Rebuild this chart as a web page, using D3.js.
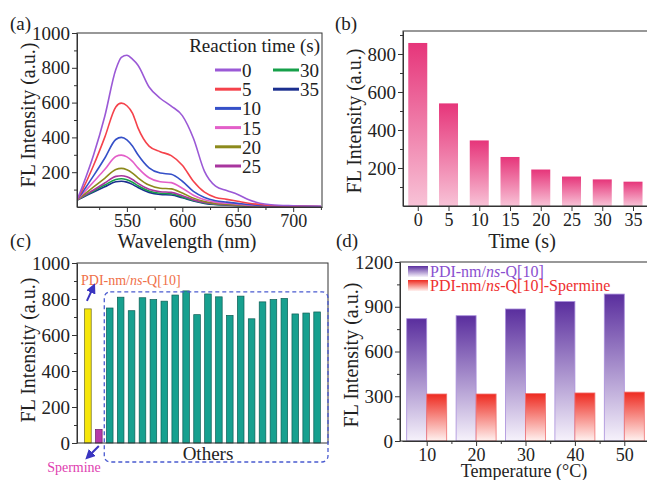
<!DOCTYPE html>
<html>
<head>
<meta charset="utf-8">
<script src="https://cdn.jsdelivr.net/npm/d3@7"></script>
<style>
  body { margin: 0; background: #fff; }
  svg, svg text { font-family: "Liberation Serif", "Times New Roman", serif; }
  .tick text { font-size: 19px; fill: #222; font-family: "Liberation Serif", "Times New Roman", serif; }
  .tick line, .domain { stroke: #333; }
  .small .tick text { font-size: 18px; }
</style>
</head>
<body>
<div id="chart"></div>
<script>
// (a) spectra
var waves = [505, 510, 520, 530, 540, 545, 550, 555, 560, 570, 580, 590, 600, 610, 620, 630, 640, 650, 660, 670, 680, 700, 725];
var spec0  = [40,120,300,520,790,860,872,850,815,690,625,580,525,395,205,120,95,72,42,22,13,7,4];
var spec5  = [40,100,240,400,575,597,582,540,455,350,318,295,240,148,85,55,44,33,22,14,9,5,3];
var spec10 = [40,85,180,280,388,400,386,350,300,225,195,188,148,90,55,36,28,21,14,9,6,4,2];
var spec15 = [40,75,145,215,290,298,288,262,225,168,145,140,108,68,42,28,22,16,11,7,5,3,2];
var spec20 = [40,65,115,165,216,222,214,195,168,126,108,104,80,51,32,21,16,12,8,5,4,2,1];
var spec25 = [40,60,98,138,176,180,174,158,136,102,88,84,65,41,26,17,13,10,7,4,3,2,1];
var spec30 = [40,57,92,126,158,162,156,142,122,92,79,76,58,37,23,15,12,9,6,4,3,2,1];
var spec35 = [40,55,86,116,145,148,143,130,112,84,72,69,53,34,21,14,11,8,5,4,3,2,1];
var specLabels = ["0", "5", "10", "15", "20", "25", "30", "35"];
var specColors = ["#9b59d6", "#f5424b", "#3550c8", "#e35fc9", "#8c8a1c", "#a8359e", "#16a04a", "#1b2f8f"];

// (b) intensity vs time
var times = [0, 5, 10, 15, 20, 25, 30, 35];
var timeInt = [858, 540, 345, 258, 192, 155, 140, 128];

// (c) selectivity
var refValue = 745, spermineValue = 75;
var others = [750, 810, 735, 807, 797, 788, 822, 845, 713, 828, 812, 709, 816, 690, 784, 797, 803, 717, 722, 728];

// (d) temperature
var temps = [10, 20, 30, 40, 50];
var qInt = [820, 840, 885, 935, 985];
var qSpInt = [315, 315, 318, 322, 328];

var svg = d3.select("#chart").append("svg").attr("width", 647).attr("height", 480);
var defs = svg.append("defs");

function grad(id, top, bottom) {
  var g = defs.append("linearGradient").attr("id", id)
    .attr("x1", 0).attr("y1", 0).attr("x2", 0).attr("y2", 1);
  g.append("stop").attr("offset", "0%").attr("stop-color", top);
  g.append("stop").attr("offset", "100%").attr("stop-color", bottom);
}
grad("gPink", "#e6357a", "#f8c3d7");
grad("gPurple", "#5a2e9e", "#f6f2fb");
grad("gRed", "#ee2a20", "#fff2f0");

function yAxis(x, scale, major, minor) {
  svg.append("g").attr("transform", "translate(" + x + ",0)")
    .call(d3.axisLeft(scale).tickValues(major).tickSize(5).tickPadding(2).tickSizeOuter(0).tickFormat(d3.format("d")));
  svg.append("g").attr("transform", "translate(" + x + ",0)")
    .call(d3.axisLeft(scale).tickValues(minor).tickSize(3).tickFormat(""))
    .select(".domain").remove();
}
function xAxis(y, scale, major, minor, cls) {
  var a = d3.axisBottom(scale).tickValues(major).tickSize(5).tickPadding(2).tickSizeOuter(0).tickFormat(d3.format("d"));
  svg.append("g").attr("class", cls || null).attr("transform", "translate(0," + y + ")").call(a);
  if (minor) {
    svg.append("g").attr("transform", "translate(0," + y + ")")
      .call(d3.axisBottom(scale).tickValues(minor).tickSize(3).tickFormat(""))
      .select(".domain").remove();
  }
}
function frame(x0, y0, x1, y1) {
  svg.append("rect").attr("x", x0).attr("y", y0).attr("width", x1 - x0).attr("height", y1 - y0)
    .attr("fill", "none").attr("stroke", "#333").attr("stroke-width", 1);
}
function text(x, y, s, size, opts) {
  opts = opts || {};
  var t = svg.append("text").attr("x", x).attr("y", y)
    .attr("font-size", size).attr("fill", opts.fill || "#222")
    .attr("text-anchor", opts.anchor || "start");
  if (opts.rotate) t.attr("transform", "rotate(-90," + x + "," + y + ")");
  t.text(s);
  return t;
}
function richLabel(x, y, size, fill, tail) {
  var t = svg.append("text").attr("x", x).attr("y", y).attr("font-size", size).attr("fill", fill);
  t.append("tspan").text("PDI-nm/");
  t.append("tspan").attr("font-style", "italic").text("ns");
  t.append("tspan").text("-Q[10]" + (tail || ""));
  return t;
}

// ---------- (a) ----------
var xa = d3.scaleLinear().domain([505, 726]).range([77, 322]);
var ya = d3.scaleLinear().domain([0, 1000]).range([207, 33]);
defs.append("clipPath").attr("id", "clipA").append("rect")
  .attr("x", 77).attr("y", 33).attr("width", 245).attr("height", 174);
var specs = [spec0, spec5, spec10, spec15, spec20, spec25, spec30, spec35];
var line = d3.line().x(function(d, i) { return xa(waves[i]); }).y(function(d) { return ya(d); })
  .curve(d3.curveMonotoneX);
var ga = svg.append("g").attr("clip-path", "url(#clipA)");
specs.slice().reverse().forEach(function(s, j) {
  var i = specs.length - 1 - j;
  ga.append("path").datum(s).attr("d", line).attr("fill", "none")
    .attr("stroke", specColors[i]).attr("stroke-width", 1.6);
});
frame(77, 33, 322, 207);
yAxis(77, ya, [200, 400, 600, 800, 1000], [100, 300, 500, 700, 900]);
xAxis(207, xa, [550, 600, 650, 700], [525, 575, 625, 675, 725], "small");
text(10, 30, "(a)", 19);
text(35, 115, "FL Intensity (a.u.)", 20, { rotate: true, anchor: "middle" });
text(187, 248, "Wavelength (nm)", 20, { anchor: "middle" });
text(320, 52, "Reaction time (s)", 19, { anchor: "end" });
specLabels.forEach(function(lab, i) {
  var col = i < 6 ? 0 : 1, row = i < 6 ? i : i - 6;
  var lx = col === 0 ? 215 : 273, ly = 70 + row * 19.2;
  svg.append("line").attr("x1", lx).attr("x2", lx + 26).attr("y1", ly).attr("y2", ly)
    .attr("stroke", specColors[i]).attr("stroke-width", 3);
  text(lx + 27, ly + 7, lab, 19);
});

// ---------- (b) ----------
var xb = d3.scaleLinear().domain([-2.4, 37.6]).range([403, 649]);
var yb = d3.scaleLinear().domain([0, 921]).range([206, 31]);
svg.append("g").selectAll("rect").data(timeInt).join("rect")
  .attr("x", function(d, i) { return xb(times[i]) - 9.5; })
  .attr("width", 19)
  .attr("y", function(d) { return yb(d); })
  .attr("height", function(d) { return yb(0) - yb(d); })
  .attr("fill", "url(#gPink)");
frame(403, 31, 660, 206);
yAxis(403, yb, [200, 400, 600, 800], [100, 300, 500, 700, 900]);
xAxis(206, xb, times, null, "small");
text(335, 30, "(b)", 19);
text(361, 121, "FL Intensity (a.u.)", 20, { rotate: true, anchor: "middle" });
text(522, 248, "Time (s)", 20, { anchor: "middle" });

// ---------- (c) ----------
var xc = d3.scaleLinear().domain([0, 23]).range([77, 328]);
var yc = d3.scaleLinear().domain([0, 1000]).range([443, 263]);
var barsC = [refValue, spermineValue].concat(others);
svg.append("g").selectAll("rect").data(barsC).join("rect")
  .attr("x", function(d, i) { return xc(i + 1) - 3.3; })
  .attr("width", 6.6)
  .attr("y", function(d) { return yc(d); })
  .attr("height", function(d) { return yc(0) - yc(d); })
  .attr("fill", function(d, i) { return i === 0 ? "#f6e60a" : i === 1 ? "#b63aa8" : "#17a08f"; })
  .attr("stroke", function(d, i) { return i === 0 ? "#6b6a20" : i === 1 ? "#6a2066" : "#0d5e55"; })
  .attr("stroke-width", 0.7);
frame(77, 263, 328, 443);
yAxis(77, yc, [0, 200, 400, 600, 800, 1000], [100, 300, 500, 700, 900]);
svg.append("rect").attr("x", xc(2.5)).attr("y", yc(840)).attr("width", 328 - xc(2.5))
  .attr("height", yc(0) + 19 - yc(840)).attr("rx", 6)
  .attr("fill", "none").attr("stroke", "#4a5bd0").attr("stroke-width", 1.3)
  .attr("stroke-dasharray", "4,3");
text(10, 247, "(c)", 19);
text(35, 350, "FL Intensity (a.u.)", 20, { rotate: true, anchor: "middle" });
text(xc(12), 460, "Others", 19, { anchor: "middle" });
richLabel(81, 285, 14, "#f07048");
text(74, 472, "Spermine", 14, { anchor: "middle", fill: "#e040b0" });
defs.append("marker").attr("id", "arr").attr("viewBox", "0 0 10 10").attr("refX", 5).attr("refY", 5)
  .attr("markerWidth", 5).attr("markerHeight", 5).attr("orient", "auto")
  .append("path").attr("d", "M0,0L10,5L0,10z").attr("fill", "#3a35c0");
svg.append("line").attr("x1", xc(1) - 1).attr("y1", yc(745) - 8).attr("x2", xc(1) + 5).attr("y2", yc(745) - 21)
  .attr("stroke", "#3a35c0").attr("stroke-width", 2).attr("marker-end", "url(#arr)");
svg.append("line").attr("x1", xc(2)).attr("y1", yc(0) + 3).attr("x2", xc(2) - 10).attr("y2", yc(0) + 13)
  .attr("stroke", "#3a35c0").attr("stroke-width", 2).attr("marker-end", "url(#arr)");

// ---------- (d) ----------
var xd = d3.scaleLinear().domain([5, 55]).range([402, 649]);
var yd = d3.scaleLinear().domain([0, 1200]).range([441, 262]);
var gd = svg.append("g");
gd.selectAll(".pq").data(qInt).join("rect").attr("class", "pq")
  .attr("x", function(d, i) { return xd(temps[i]) - 20; }).attr("width", 20)
  .attr("y", function(d) { return yd(d); })
  .attr("height", function(d) { return yd(0) - yd(d); })
  .attr("fill", "url(#gPurple)").attr("stroke", "#a88ddb").attr("stroke-width", 0.8);
gd.selectAll(".rq").data(qSpInt).join("rect").attr("class", "rq")
  .attr("x", function(d, i) { return xd(temps[i]); }).attr("width", 20)
  .attr("y", function(d) { return yd(d); })
  .attr("height", function(d) { return yd(0) - yd(d); })
  .attr("fill", "url(#gRed)").attr("stroke", "#f07070").attr("stroke-width", 0.8);
frame(400, 262, 660, 441);
yAxis(400, yd, [0, 300, 600, 900, 1200], [150, 450, 750, 1050]);
xAxis(441, xd, temps, [15, 25, 35, 45, 55], "small");
text(336, 247, "(d)", 19);
text(358, 355, "FL Intensity (a.u.)", 20, { rotate: true, anchor: "middle" });
text(524, 477, "Temperature (\u00B0C)", 18, { anchor: "middle" });
svg.append("rect").attr("x", 408).attr("y", 266).attr("width", 20).attr("height", 11).attr("fill", "url(#gPurple)");
svg.append("rect").attr("x", 408).attr("y", 280).attr("width", 20).attr("height", 11).attr("fill", "url(#gRed)");
richLabel(430, 277, 16, "#8a4fd0");
richLabel(430, 291, 16, "#ee3030", "-Spermine");
</script>
</body>
</html>
